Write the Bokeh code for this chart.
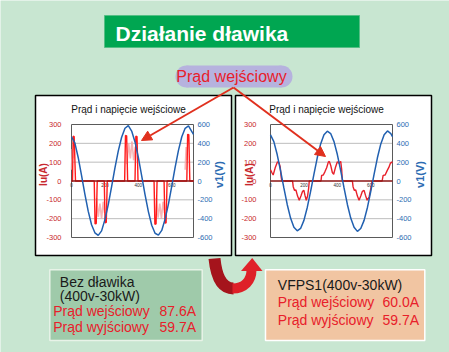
import numpy as np
from bokeh.plotting import figure
from bokeh.models import Range1d, Arrow, NormalHead
from bokeh.core.properties import value
from bokeh.embed import file_html
from bokeh.resources import INLINE

# ---------------- data ----------------
title_text = "Działanie dławika"
callout_text = "Prąd wejściowy"
chart_title = "Prąd i napięcie wejściowe"
current_axis_label = "Iu(A)"
voltage_axis_label = "v1(V)"

x_ticks = [0, 200, 400, 600]
x_tick_labels = ["0", "200", "400", "600"]
i_ticks = [300, 200, 100, 0, -100, -200, -300]
i_tick_labels = ["300", "200", "100", "0", "-100", "-200", "-300"]
v_ticks = [600, 400, 200, 0, -200, -400, -600]
v_tick_labels = ["600", "400", "200", "0", "-200", "-400", "-600"]
grid_values = [200, 100, -100, -200]

time_grid = [0, 20, 40, 60, 80, 100, 120, 140, 160, 180, 200, 220, 240, 260, 280,
             300, 320, 340, 360, 380, 400, 420, 440, 460, 480, 500, 520, 540, 560,
             580, 600, 620, 640, 660, 680, 700, 720, 730]

voltage_left = [470, 405, 250, 60, -140, -320, -465, -550, -578, -530, -410, -250,
                -60, 140, 320, 465, 560, 588, 530, 415, 250, 55, -145, -325, -470,
                -555, -575, -525, -405, -245, -55, 145, 325, 470, 560, 585, 525, 495]

voltage_right = [490, 418, 281, 110, -74, -249, -394, -491, -529, -504, -418, -281,
                 -110, 74, 249, 394, 491, 529, 504, 418, 281, 110, -74, -249, -394,
                 -491, -535, -504, -418, -281, -110, 74, 249, 394, 491, 532, 504, 470]

# left chart (no reactor): sharp current pulses
current_left_t = [0, 6, 10, 16, 24,
                  136, 141, 148, 154, 196, 201, 208, 214,
                  318, 323, 330, 336, 380, 385, 392, 398,
                  494, 499, 506, 512, 554, 559, 566, 572,
                  690, 695, 702, 708, 730]
current_left = [0, 0, 238, 236, 0,
                0, -228, -226, 0, 0, -222, -220, 0,
                0, 242, 240, 0, 0, 238, 236, 0,
                0, -230, -228, 0, 0, -224, -222, 0,
                0, 248, 246, 0, 0]

# lighter trace between the pulses (left chart)
pink_left_t = [0, 4, 8, np.nan,
               150, 160, 170, 180, 190, 198, np.nan,
               332, 342, 352, 362, 372, 382, np.nan,
               508, 518, 528, 538, 548, 556, np.nan,
               680, 686, 692]
pink_left = [60, 170, 120, np.nan,
             -90, -190, -120, -200, -110, -170, np.nan,
             90, 200, 120, 210, 110, 180, np.nan,
             -90, -195, -120, -200, -110, -170, np.nan,
             60, 180, 110]

# right chart (VFPS1): smoothed current
current_right_t = [0, 8, 16, 28, 42, 52, 58, 64, 68,
                   132, 136, 144, 152, 162, 172, 182, 192, 200, 206, 214, 222, 228, 232,
                   302, 306, 316, 326, 336, 346, 352, 360, 370, 378, 388, 400, 410, 420, 426, 430,
                   490, 494, 502, 510, 520, 530, 540, 550, 560, 568, 578, 590, 600, 608,
                   668, 674, 686, 698, 708, 718, 726, 730]
current_right = [60, 45, 32, 70, 102, 95, 75, 20, 0,
                 0, -30, -50, -48, -80, -102, -80, -55, -50, -75, -102, -80, -40, 0,
                 0, 30, 32, 50, 70, 100, 104, 84, 45, 36, 70, 102, 95, 104, 60, 0,
                 0, -30, -50, -48, -80, -102, -80, -55, -50, -75, -102, -85, -40, 0,
                 0, 30, 32, 55, 72, 95, 100, 98]

left_box_head = ["Bez dławika", "(400v-30kW)"]
left_box_rows = [("Prąd wejściowy", "87.6A"), ("Prąd wyjściowy", "59.7A")]
right_box_head = ["VFPS1(400v-30kW)"]
right_box_rows = [("Prąd wejściowy", "60.0A"), ("Prąd wyjściowy", "59.7A")]

# ---------------- style ----------------
FONT = "Liberation Sans"
BG = "#C8E6D1"
GREEN = "#00A651"
RED = "#E8202A"
SPIKE = "#FF1A1A"
DARKRED = "#8B1414"
PINK = "#F4A5A5"
BLUE = "#2160B0"
AXRED = "#C8282E"
AXBLUE = "#2C6CB2"

W, H = 449, 352
p = figure(width=W, height=H, x_range=Range1d(0, W), y_range=Range1d(H, 0),
           toolbar_location=None, output_backend="svg",
           x_axis_location=None, y_axis_location=None, min_border=0,
           background_fill_color=BG, border_fill_color=BG, outline_line_color=None)
p.grid.visible = False

def label(x, y, s, size, color, align="left", bold=False, angle=0.0):
    p.text(x=[x], y=[y], text=[s], text_font=value(FONT), text_font_size=size,
           text_font_style="bold" if bold else "normal", text_color=color,
           text_align=align, text_baseline="middle", angle=angle)

# title bar
p.quad(left=[104], right=[359], top=[15], bottom=[47], fill_color=GREEN,
       line_color="#55BE85", line_width=1)
label(115, 32.5, title_text, "21px", "white", bold=True)

# callout pill
PILL = "#B6B2DE"
p.rect(x=[233.5], y=[76], width=95, height=22, fill_color=PILL, line_color=None)
p.ellipse(x=[186, 281], y=[76, 76], width=22, height=22, fill_color=PILL, line_color=None)
label(231, 76, callout_text, "16px", RED, align="center")

# chart panels
p.quad(left=[35, 235], right=[231, 431], top=[95, 95], bottom=[255, 255],
       fill_color="white", line_color="black", line_width=1.5)

charts = [
    dict(frame=(71, 193), title_x=128, lab_off=-10, i_lab_x=43, v_lab_x=218.5,
         volt=voltage_left, cur_t=current_left_t, cur=current_left, pink=True),
    dict(frame=(270, 392), title_x=326, lab_off=-14, i_lab_x=249, v_lab_x=419,
         volt=voltage_right, cur_t=current_right_t, cur=current_right, pink=False),
]
FY0, FY1 = 124, 237
T0, T1 = 0, 730

for c in charts:
    fx0, fx1 = c["frame"]
    si = p.subplot(x_source=Range1d(T0, T1), y_source=Range1d(-300, 300),
                   x_target=Range1d(fx0, fx1), y_target=Range1d(FY1, FY0))
    sv = p.subplot(x_source=Range1d(T0, T1), y_source=Range1d(-600, 600),
                   x_target=Range1d(fx0, fx1), y_target=Range1d(FY1, FY0))
    # gridlines and frame
    si.segment(x0=[T0] * len(grid_values), x1=[T1] * len(grid_values),
               y0=grid_values, y1=grid_values, line_color="#BDBDBD", line_width=1)
    si.quad(left=[T0], right=[T1], bottom=[-300], top=[300], fill_color=None,
            line_color="#5A5A5A", line_width=1)
    # tick labels
    si.text(x=[T0] * len(i_ticks), y=i_ticks, text=i_tick_labels, x_offset=c["lab_off"],
            text_font=value(FONT), text_font_size="7.5px", text_color=AXRED,
            text_align="right", text_baseline="middle")
    sv.text(x=[T1] * len(v_ticks), y=v_ticks, text=v_tick_labels, x_offset=4,
            text_font=value(FONT), text_font_size="7.5px", text_color=AXBLUE,
            text_align="left", text_baseline="middle")
    si.text(x=x_ticks, y=[0] * len(x_ticks), text=x_tick_labels, y_offset=2,
            text_font=value(FONT), text_font_size="4.5px", text_color="#333333",
            text_align="center", text_baseline="top")
    # series
    if c["pink"]:
        si.line(pink_left_t, pink_left, line_color=PINK, line_width=1.6, line_alpha=0.8)
    si.line(c["cur_t"], c["cur"], line_color=SPIKE if c["pink"] else RED, line_width=1.4)
    si.segment(x0=[T0], x1=[T1], y0=[0], y1=[0], line_color=DARKRED, line_width=1.4)
    sv.line(time_grid, c["volt"], line_color=BLUE, line_width=1.5)
    # titles
    label(c["title_x"], 109, chart_title, "10px", "#111111", align="center")
    label(c["i_lab_x"], 174, current_axis_label, "10px", AXRED, align="center",
          bold=True, angle=np.pi / 2)
    label(c["v_lab_x"], 174, voltage_axis_label, "11px", AXBLUE, align="center",
          bold=True, angle=np.pi / 2)

# red arrows from callout
ARROW = "#E0301E"
for xe, ye in [(141, 140), (325, 156)]:
    p.add_layout(Arrow(end=NormalHead(size=10, fill_color=ARROW, line_color=ARROW),
                       x_start=233, y_start=87, x_end=xe, y_end=ye,
                       line_color=ARROW, line_width=2))

# bottom boxes
p.quad(left=[49.3], right=[201.7], top=[269.3], bottom=[340], fill_color="#9FCAAA",
       line_color="#E8F3E8", line_width=1.5)
p.quad(left=[265], right=[424.3], top=[269.3], bottom=[340], fill_color="#F1C5A2",
       line_color="white", line_width=1.5)

TXT = "#1A1A1A"
label(59.3, 281, left_box_head[0], "14px", TXT)
label(59.3, 295.7, left_box_head[1], "14px", TXT)
for (lab, val), y in zip(left_box_rows, [310.7, 326.7]):
    label(52.7, y, lab, "14px", RED)
    label(195.5, y, val, "14px", RED, align="right")
label(277.3, 284.3, right_box_head[0], "14px", TXT)
for (lab, val), y in zip(right_box_rows, [301.7, 319]):
    label(277.3, y, lab, "14px", RED)
    label(418.5, y, val, "14px", RED, align="right")

# curved red arrow between boxes
p.bezier(x0=[214], y0=[258], x1=[233], y1=[288], cx0=[216], cy0=[278],
         cx1=[222], cy1=[288], line_color="#A5141C", line_width=12)
p.bezier(x0=[232], y0=[288], x1=[251], y1=[269.5], cx0=[244], cy0=[288],
         cx1=[251], cy1=[280], line_color="#DE2028", line_width=10)
p.patch(x=[251.7, 240.5, 262], y=[257.5, 270.5, 270.5], fill_color="#E0222A", line_color=None)

open("out.html", "w").write(file_html(p, INLINE))
